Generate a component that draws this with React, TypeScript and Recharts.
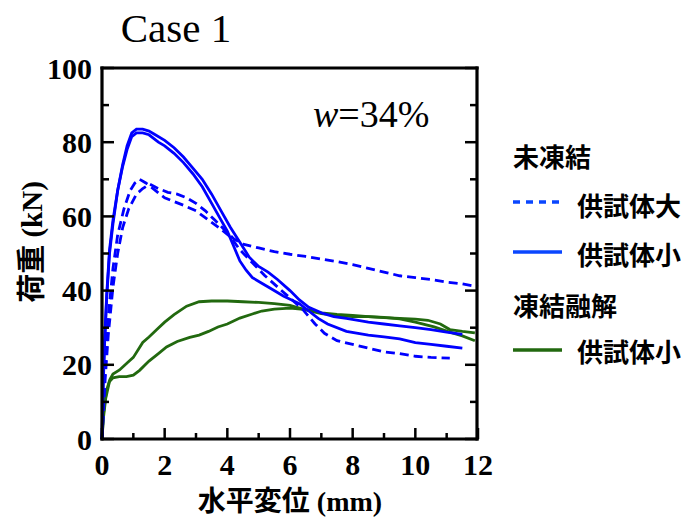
import { LineChart, Line, XAxis, YAxis } from "recharts";

// 未凍結 供試体大 (dashed)
const dashAX = [0, 0.05, 0.1, 0.2, 0.35, 0.5, 0.66, 0.85, 1.1, 1.3, 1.52, 1.8, 2.1, 2.4, 2.7, 3.0, 3.3, 3.6, 3.9, 4.2, 4.5, 5.0, 5.5, 6.0, 6.5, 7.0, 7.5, 8.0, 8.5, 9.0, 9.5, 10.0, 10.5, 11.0, 11.5, 12.0];
const dashAY = [0, 8, 16, 28, 41, 50, 57, 62, 66, 67.5, 68.7, 67.5, 66.5, 66, 65, 63.5, 61.5, 59, 56.5, 54, 52.5, 51.5, 50.5, 49.8, 49.2, 48.5, 47.8, 47, 46, 45, 44, 43.5, 43, 42.3, 41.8, 41];
const dashBX = [0, 0.05, 0.1, 0.2, 0.35, 0.5, 0.7, 0.9, 1.05, 1.2, 1.4, 1.7, 2.0, 2.3, 2.6, 3.0, 3.4, 3.8, 4.1, 4.4, 4.8, 5.2, 5.6, 6.0, 6.4, 6.8, 7.1, 7.5, 8.0, 8.5, 9.0, 9.5, 10.0, 10.5, 11.1];
const dashBY = [0, 10, 20, 33, 46, 55, 62, 67, 69, 70, 69, 67, 65, 64, 63, 61.5, 59, 56.5, 54.5, 51, 47.5, 44, 41, 38, 35, 31, 28.5, 26.5, 25.5, 24.5, 23.5, 23, 22.3, 22, 21.8];

// 未凍結 供試体小 (solid)
const solidAX = [0, 0.03, 0.08, 0.15, 0.24, 0.35, 0.5, 0.66, 0.8, 0.95, 1.1, 1.3, 1.5, 1.7, 2.0, 2.3, 2.6, 2.9, 3.2, 3.5, 3.8, 4.1, 4.4, 4.7, 5.0, 5.3, 5.6, 6.0, 6.3, 6.6, 7.0, 7.4, 7.8, 8.5, 9.0, 9.5, 10.0, 10.5, 11.0, 11.5];
const solidAY = [0, 12, 25, 38, 50, 58, 67, 74, 79, 82.5, 83.5, 83.5, 83, 82, 80.5, 78.5, 76, 73, 70, 66, 61.5, 57, 53, 49, 46.5, 45, 43, 40, 37.5, 35.5, 34, 33, 32.5, 31.5, 31, 30.5, 30, 29.5, 28.8, 28.2];
const solidBX = [0, 0.03, 0.08, 0.15, 0.24, 0.35, 0.5, 0.66, 0.8, 0.95, 1.1, 1.3, 1.5, 1.8, 2.0, 2.3, 2.6, 2.9, 3.2, 3.5, 3.8, 4.0, 4.2, 4.4, 4.6, 4.8, 5.1, 5.4, 5.8, 6.3, 6.6, 6.9, 7.2, 7.8, 8.5, 9.0, 9.5, 10.0, 10.5, 11.0, 11.5];
const solidBY = [0, 13, 26, 39, 51, 59, 67, 73.5, 78, 81.5, 82.5, 82.5, 82, 80, 79, 77, 74.5, 71.5, 68, 63.5, 59, 56, 52, 48, 45.5, 43.5, 42, 40.5, 38.5, 36.5, 34.5, 32.5, 31, 29, 28, 27.5, 27, 26, 25.5, 25, 24.5];

// 凍結融解 供試体小 (green)
const greenAX = [0, 0.05, 0.14, 0.25, 0.35, 0.56, 0.8, 1.0, 1.3, 1.5, 1.75, 2.0, 2.3, 2.7, 3.1, 3.5, 4.0, 4.5, 5.0, 5.5, 6.0, 6.5, 7.0, 7.5, 8.0, 8.5, 9.0, 9.5, 10.0, 10.6, 11.1, 11.5, 11.9];
const greenAY = [0, 7, 13, 16, 17.5, 18.6, 20.5, 22, 26, 27.5, 29.5, 31.5, 33.5, 35.8, 37, 37.2, 37.2, 37, 36.8, 36.5, 36, 34.8, 33.8, 33.3, 33, 33, 32.8, 32.4, 31.5, 30.2, 28.8, 27.8, 26.5];
const greenBX = [0, 0.05, 0.12, 0.24, 0.35, 0.55, 0.78, 1.0, 1.2, 1.5, 1.8, 2.06, 2.4, 2.8, 3.1, 3.4, 3.7, 4.0, 4.4, 4.8, 5.1, 5.5, 6.0, 6.6, 7.0, 7.5, 8.0, 8.5, 9.0, 9.5, 10.0, 10.4, 10.8, 11.1, 11.5, 11.9];
const greenBY = [0, 6, 11, 15.5, 16.5, 16.8, 16.8, 17.2, 18.5, 21, 23, 24.8, 26.3, 27.4, 28, 29, 30.2, 31, 32.6, 33.7, 34.5, 35, 35.3, 34.8, 34, 33.6, 33.3, 33, 32.7, 32.5, 32.3, 32, 31, 29.5, 29, 28.6];

const xTicks = [0, 1, 2, 3, 4, 5, 6, 7, 8, 9, 10, 11, 12];
const yTicks = [0, 10, 20, 30, 40, 50, 60, 70, 80, 90, 100];

const toPoints = (xs: number[], ys: number[]) => xs.map((x, i) => ({ x, y: ys[i] }));

const BLUE = "#0000ff";
const GREEN = "#22690f";
const NUM_FONT = "'Liberation Serif', 'Times New Roman', serif";
const JP_FONT = "'Liberation Serif', 'Noto Sans CJK JP', serif";

// plot box in pixels (chart margins below put the axes here)
const PLOT = { left: 102, top: 68, right: 477, bottom: 439 };

function BottomTick(props: any) {
  const { x, y, payload } = props;
  const major = payload.value % 2 === 0;
  return (
    <g>
      <line x1={x} x2={x} y1={y} y2={y - (major ? 11 : 6)} stroke="#000" strokeWidth={2.5} />
      {major && (
        <text x={x} y={y + 36} textAnchor="middle" fontFamily={NUM_FONT} fontWeight="bold" fontSize={30} fill="#000">
          {payload.value}
        </text>
      )}
    </g>
  );
}

function TopTick(props: any) {
  const { x, y, payload } = props;
  const major = payload.value % 2 === 0;
  return <line x1={x} x2={x} y1={y} y2={y + (major ? 11 : 6)} stroke="#000" strokeWidth={2.5} />;
}

function LeftTick(props: any) {
  const { x, y, payload } = props;
  const major = payload.value % 20 === 0;
  return (
    <g>
      <line x1={x} x2={x + (major ? 12 : 7)} y1={y} y2={y} stroke="#000" strokeWidth={2.5} />
      {major && (
        <text x={x - 10} y={y + 10.5} textAnchor="end" fontFamily={NUM_FONT} fontWeight="bold" fontSize={30} fill="#000">
          {payload.value}
        </text>
      )}
    </g>
  );
}

export default function App() {
  const yPx = (v: number) => PLOT.bottom - ((PLOT.bottom - PLOT.top) * v) / 100;
  const edge = { stroke: "#000", strokeWidth: 3.2, strokeLinecap: "square" as const };
  return (
    <div style={{ position: "absolute", left: 0, top: 0, width: 681, height: 521, background: "#fff" }}>
      <LineChart width={681} height={521} margin={{ top: 67, right: 203, bottom: 0, left: 0 }}>
        <XAxis
          dataKey="x"
          type="number"
          domain={[0, 12]}
          ticks={xTicks}
          interval={0}
          height={82}
          tickSize={0}
          tickMargin={0}
          tickLine={false}
          axisLine={false}
          tick={<BottomTick />}
        />
        <XAxis
          xAxisId="top"
          orientation="top"
          type="number"
          domain={[0, 12]}
          ticks={xTicks}
          interval={0}
          height={1}
          tickSize={0}
          tickMargin={0}
          tickLine={false}
          axisLine={false}
          tick={<TopTick />}
        />
        <YAxis
          type="number"
          domain={[0, 100]}
          ticks={yTicks}
          interval={0}
          width={102}
          tickSize={0}
          tickMargin={0}
          tickLine={false}
          axisLine={false}
          tick={<LeftTick />}
        />
        <YAxis yAxisId="right" orientation="right" type="number" domain={[0, 100]} width={1} hide />
        <Line data={toPoints(greenBX, greenBY)} dataKey="y" stroke={GREEN} strokeWidth={2.8} dot={false} isAnimationActive={false} />
        <Line data={toPoints(greenAX, greenAY)} dataKey="y" stroke={GREEN} strokeWidth={2.8} dot={false} isAnimationActive={false} />
        <Line data={toPoints(dashAX, dashAY)} dataKey="y" stroke={BLUE} strokeWidth={2.8} strokeDasharray="9 5" dot={false} isAnimationActive={false} />
        <Line data={toPoints(dashBX, dashBY)} dataKey="y" stroke={BLUE} strokeWidth={2.8} strokeDasharray="9 5" dot={false} isAnimationActive={false} />
        <Line data={toPoints(solidAX, solidAY)} dataKey="y" stroke={BLUE} strokeWidth={2.8} dot={false} isAnimationActive={false} />
        <Line data={toPoints(solidBX, solidBY)} dataKey="y" stroke={BLUE} strokeWidth={2.8} dot={false} isAnimationActive={false} />
      </LineChart>

      <svg width={681} height={521} style={{ position: "absolute", left: 0, top: 0, pointerEvents: "none" }}>
        {/* plot frame and right-side ticks */}
        <line x1={PLOT.left} x2={PLOT.left} y1={PLOT.top} y2={PLOT.bottom} {...edge} />
        <line x1={PLOT.left} x2={PLOT.right} y1={PLOT.top} y2={PLOT.top} {...edge} />
        <line x1={PLOT.right} x2={PLOT.right} y1={PLOT.top} y2={PLOT.bottom} {...edge} />
        <line x1={PLOT.left} x2={PLOT.right} y1={PLOT.bottom} y2={PLOT.bottom} {...edge} />
        {yTicks.map((v) => (
          <line
            key={v}
            x1={PLOT.right}
            x2={PLOT.right - (v % 20 === 0 ? 12 : 7)}
            y1={yPx(v)}
            y2={yPx(v)}
            stroke="#000"
            strokeWidth={2.5}
          />
        ))}

        <text x={176} y={42} textAnchor="middle" fontFamily={NUM_FONT} fontSize={41} fill="#000">
          Case 1
        </text>
        <text x={313} y={127} fontFamily={NUM_FONT} fontSize={38} fill="#000">
          <tspan fontStyle="italic">w</tspan>=34%
        </text>
        <text
          x={42}
          y={242}
          transform="rotate(-90 42 242)"
          textAnchor="middle"
          fontFamily={JP_FONT}
          fontWeight="bold"
          fontSize={29}
          fill="#000"
        >
          荷重 (kN)
        </text>
        <text x={290} y={511} textAnchor="middle" fontFamily={JP_FONT} fontWeight="bold" fontSize={28} fill="#000">
          水平変位 (mm)
        </text>

        <g fontFamily={JP_FONT} fontWeight="bold" fontSize={26} fill="#000">
          <text x={513} y={167}>未凍結</text>
          <line x1={513} x2={562} y1={202} y2={202} stroke="#0a46ff" strokeWidth={3.5} strokeDasharray="7 6" />
          <text x={577} y={216}>供試体大</text>
          <line x1={513} x2={562} y1={252} y2={252} stroke="#0a46ff" strokeWidth={3.5} />
          <text x={577} y={265}>供試体小</text>
          <text x={513} y={316}>凍結融解</text>
          <line x1={513} x2={562} y1={350} y2={350} stroke={GREEN} strokeWidth={3.5} />
          <text x={577} y={362}>供試体小</text>
        </g>
      </svg>
    </div>
  );
}
